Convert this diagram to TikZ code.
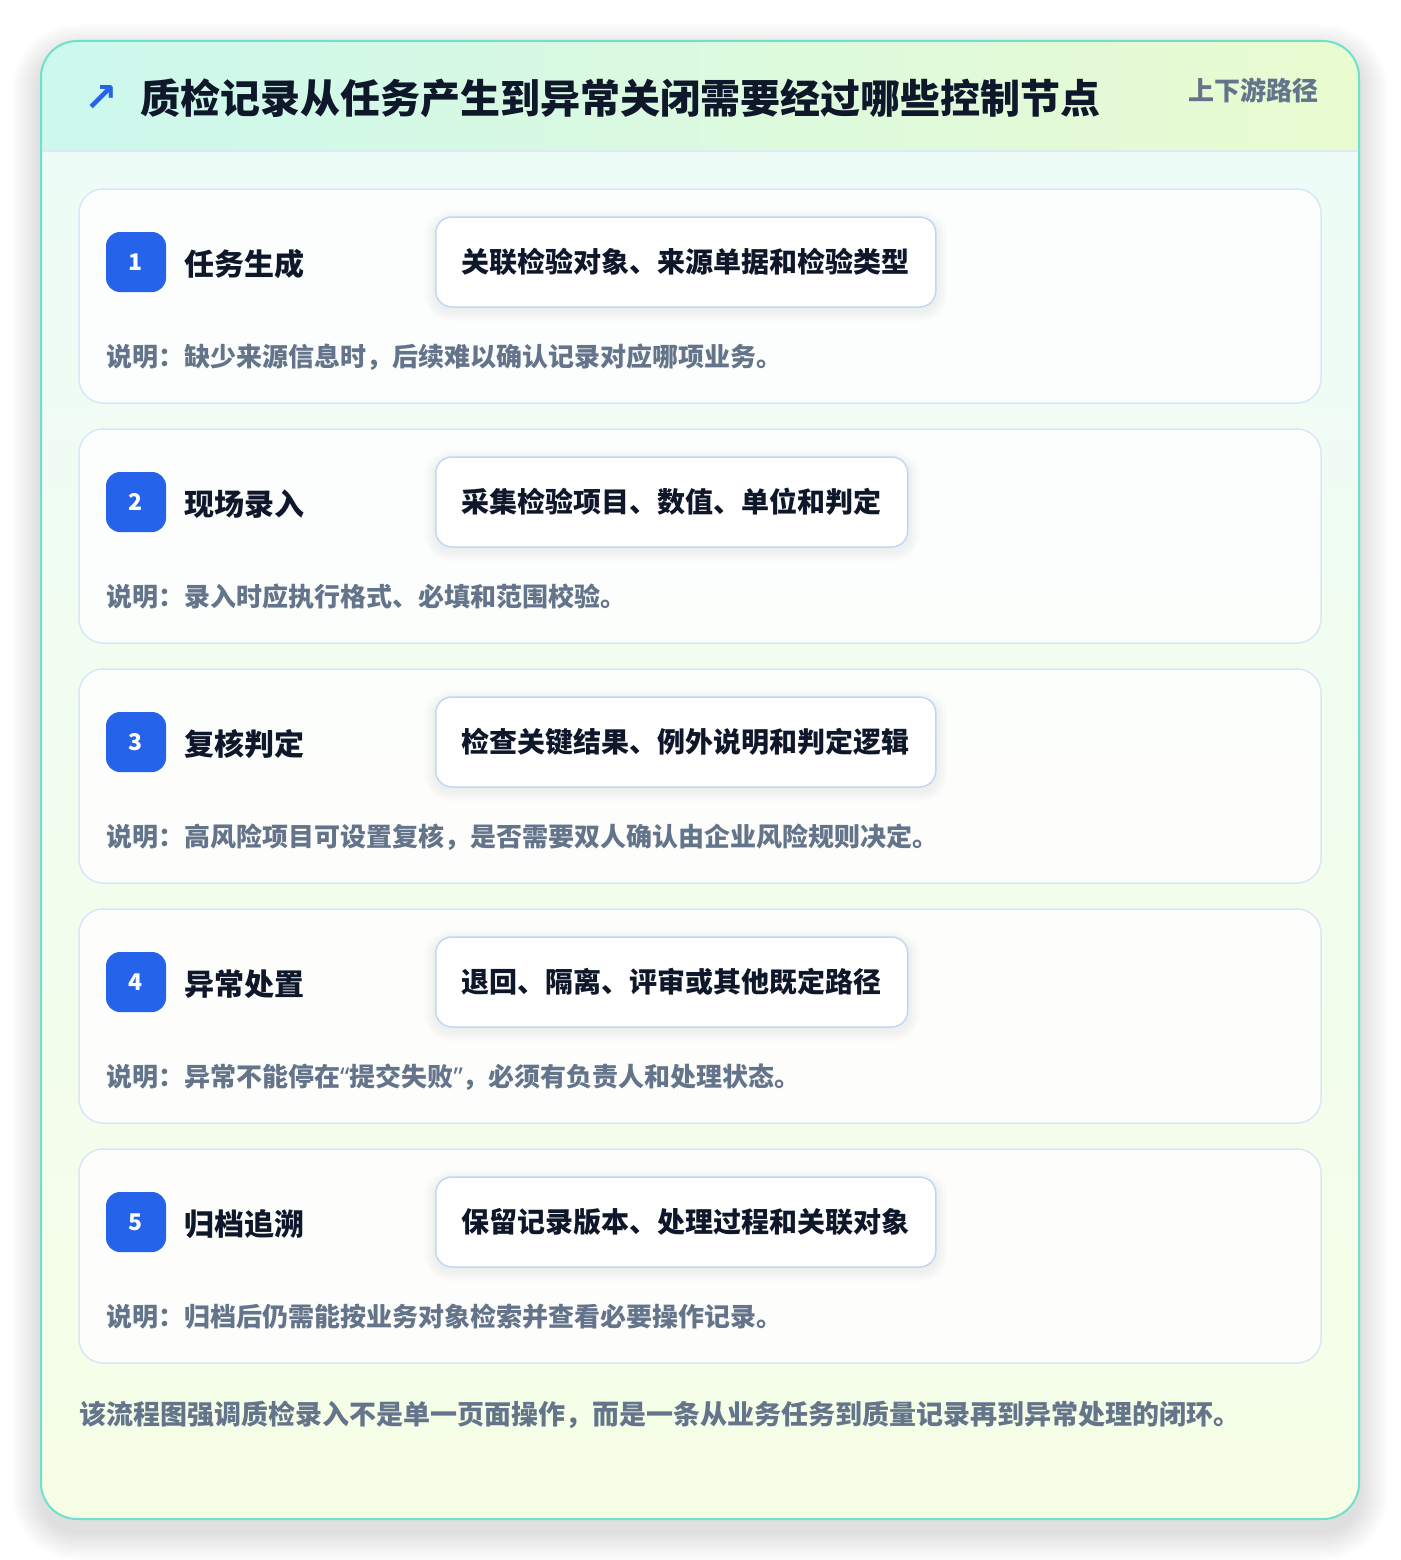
\documentclass[tikz,border=0pt]{standalone}
\usepackage{fontspec}
\setmainfont{Noto Sans CJK SC}
\newfontfamily\symfont{DejaVu Sans}
\newfontfamily\latfont{Noto Sans}
\definecolor{tealborder}{HTML}{6EE0CC}
\definecolor{hdrL}{HTML}{CCF8EE}
\definecolor{hdrR}{HTML}{EAFBD0}
\definecolor{bodytop}{HTML}{EEFCF7}
\definecolor{bodybot}{HTML}{F6FEE6}
\definecolor{hdrline}{HTML}{DCEAF7}
\definecolor{cardborder}{HTML}{D9E7F8}
\definecolor{pillborder}{HTML}{BFD8F8}
\definecolor{ink}{HTML}{0F172A}
\definecolor{muted}{HTML}{64748B}
\definecolor{badgeblue}{HTML}{2563EB}
\tikzset{
  stepcard/.style={draw=cardborder, line width=1.5pt, fill=white, fill opacity=0.85, text opacity=1, rounded corners=24pt, minimum width=1242pt, minimum height=214pt, inner sep=0pt},
  badge/.style={fill=badgeblue, rounded corners=14pt, minimum width=60pt, minimum height=60pt, inner sep=0pt, text=white, font=\fontsize{23}{23}\selectfont\bfseries},
  steptitle/.style={anchor=west, inner sep=0pt, text=ink, font=\fontsize{30}{30}\selectfont\bfseries},
  pill/.style={anchor=west, draw=pillborder, line width=1.5pt, fill=white, rounded corners=16pt, minimum height=90pt, inner xsep=26pt, inner ysep=0pt, text=ink, font=\fontsize{28}{28}\selectfont\bfseries},
  desc/.style={anchor=west, inner sep=0pt, text=muted, font=\fontsize{26}{26}\selectfont\bfseries},
  shadowlayer/.style={fill=black, fill opacity=#1, draw=none},
}
\begin{document}
\begin{tikzpicture}[x=1pt,y=-1pt]
\useasboundingbox (0,0) rectangle (1400,1560);
\fill[white] (0,0) rectangle (1400,1560);
% outer card soft shadow
\foreach \k in {1,...,16}{
  \fill[shadowlayer=0.007, rounded corners={36pt+1.8pt*\k}] ({41-1.8*\k},{41-1.8*\k+12}) rectangle ({1359+1.8*\k},{1519+1.8*\k+12});
}
\fill[white, rounded corners=36pt] (41,41) rectangle (1359,1519);
\begin{scope}
  \clip[rounded corners=36pt] (41,41) rectangle (1359,1519);
  \shade[top color=bodytop, bottom color=bodybot] (41,151) rectangle (1359,1519);
  \shade[left color=hdrL, right color=hdrR] (41,41) rectangle (1359,151);
\end{scope}
\draw[hdrline, line width=1.5pt] (41,151) -- (1359,151);
\draw[tealborder, line width=2pt, rounded corners=36pt] (41,41) rectangle (1359,1519);

% header
\node[anchor=west, inner sep=0pt, text=badgeblue, font=\symfont\bfseries\fontsize{40}{40}\selectfont] (arrow) at (84,99) {↗};
\node[anchor=west, inner sep=0pt, text=ink, font=\fontsize{40}{40}\selectfont\bfseries] (title) at (140,98) {质检记录从任务产生到异常关闭需要经过哪些控制节点};
\node[anchor=west, inner sep=0pt, text=muted, font=\fontsize{26}{26}\selectfont\bfseries] (tag) at (1188,90) {上下游路径};

% steps
\foreach \i/\t/\p/\d/\w in {
  1/任务生成/关联检验对象、来源单据和检验类型/说明：缺少来源信息时，后续难以确认记录对应哪项业务。/502,
  2/现场录入/采集检验项目、数值、单位和判定/说明：录入时应执行格式、必填和范围校验。/474,
  3/复核判定/检查关键结果、例外说明和判定逻辑/说明：高风险项目可设置复核，是否需要双人确认由企业风险规则决定。/502,
  4/异常处置/退回、隔离、评审或其他既定路径/说明：异常不能停在{\latfont “}提交失败{\latfont ”}，必须有负责人和处理状态。/474,
  5/归档追溯/保留记录版本、处理过程和关联对象/说明：归档后仍需能按业务对象检索并查看必要操作记录。/502}{
  \pgfmathsetmacro{\top}{189+240*(\i-1)}
  \node[stepcard] (card\i) at (700,\top+107) {};
  \foreach \k in {1,...,7}{
    \fill[shadowlayer=0.006, rounded corners={16pt+1.5pt*\k}] ({435-1.5*\k},{\top+28-1.5*\k+4}) rectangle ({435+\w+1.5*\k},{\top+118+1.5*\k+4});
  }
  \node[badge] (badge\i) at (136,\top+73) {\i};
  \node[steptitle] (title\i) at (184,\top+75) {\t};
  \node[pill] (pill\i) at (435,\top+73) {\p};
  \node[desc] (desc\i) at (106,\top+168) {\d};
}

% footer
\node[anchor=west, inner sep=0pt, text=muted, font=\fontsize{27}{27}\selectfont\bfseries] (footer) at (79,1415) {该流程图强调质检录入不是单一页面操作，而是一条从业务任务到质量记录再到异常处理的闭环。};
\end{tikzpicture}
\end{document}
